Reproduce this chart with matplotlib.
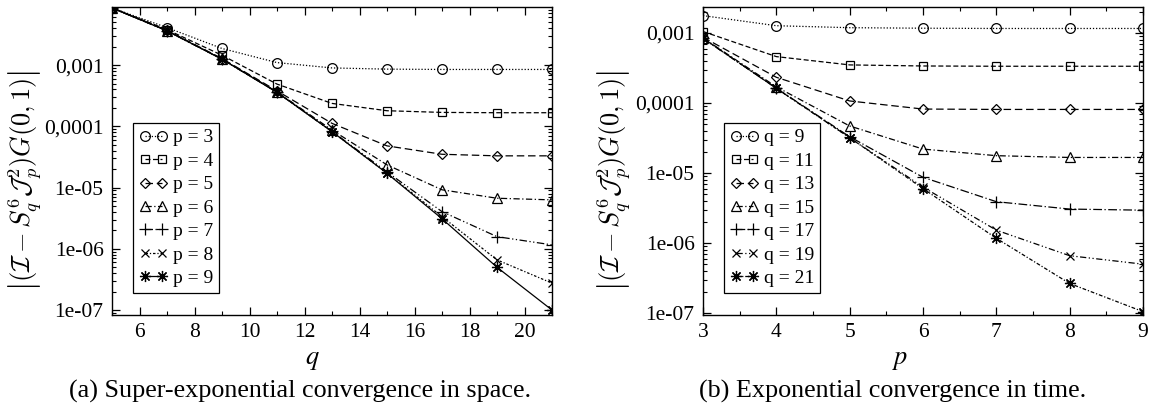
import math
import matplotlib
matplotlib.use("Agg")
import matplotlib.pyplot as plt
from matplotlib.ticker import LogLocator, FuncFormatter, MultipleLocator, NullFormatter

plt.rcParams['font.family'] = ['Liberation Serif', 'DejaVu Serif']
plt.rcParams['mathtext.fontset'] = 'stix'

# ---- (a) error vs q for fixed p ----
q_vals = [5, 7, 9, 11, 13, 15, 17, 19, 21]
space_p3 = [8.6e-3, 4.1e-3, 1.87e-3, 1.1e-3, 9.0e-4, 8.6e-4, 8.5e-4, 8.5e-4, 8.5e-4]
space_p4 = [8.6e-3, 3.8e-3, 1.45e-3, 4.9e-4, 2.37e-4, 1.8e-4, 1.69e-4, 1.67e-4, 1.67e-4]
space_p5 = [8.6e-3, 3.7e-3, 1.28e-3, 3.8e-4, 1.12e-4, 4.8e-5, 3.5e-5, 3.3e-5, 3.3e-5]
space_p6 = [8.6e-3, 3.65e-3, 1.26e-3, 3.65e-4, 8.7e-5, 2.35e-5, 9.2e-6, 6.7e-6, 6.3e-6]
space_p7 = [8.6e-3, 3.63e-3, 1.25e-3, 3.6e-4, 8.3e-5, 1.8e-5, 4.05e-6, 1.58e-6, 1.16e-6]
space_p8 = [8.6e-3, 3.63e-3, 1.25e-3, 3.6e-4, 8.2e-5, 1.72e-5, 3.35e-6, 6.6e-7, 2.75e-7]
space_p9 = [8.6e-3, 3.63e-3, 1.25e-3, 3.59e-4, 8.2e-5, 1.71e-5, 3.1e-6, 5.0e-7, 1.0e-7]
space_series = [space_p3, space_p4, space_p5, space_p6, space_p7, space_p8, space_p9]
space_labels = ['p = 3', 'p = 4', 'p = 5', 'p = 6', 'p = 7', 'p = 8', 'p = 9']

# ---- (b) error vs p for fixed q ----
p_vals = [3, 4, 5, 6, 7, 8, 9]
time_q9 = [1.77e-3, 1.27e-3, 1.19e-3, 1.17e-3, 1.16e-3, 1.16e-3, 1.16e-3]
time_q11 = [1.05e-3, 4.6e-4, 3.5e-4, 3.38e-4, 3.35e-4, 3.35e-4, 3.35e-4]
time_q13 = [8.7e-4, 2.33e-4, 1.07e-4, 8.2e-5, 8.1e-5, 8.1e-5, 8.1e-5]
time_q15 = [8.5e-4, 1.7e-4, 4.7e-5, 2.2e-5, 1.77e-5, 1.67e-5, 1.67e-5]
time_q17 = [8.4e-4, 1.63e-4, 3.3e-5, 8.7e-6, 3.9e-6, 3.06e-6, 2.95e-6]
time_q19 = [8.4e-4, 1.62e-4, 3.2e-5, 6.3e-6, 1.53e-6, 6.6e-7, 5.0e-7]
time_q21 = [8.4e-4, 1.62e-4, 3.2e-5, 6.0e-6, 1.17e-6, 2.65e-7, 1.05e-7]
time_series = [time_q9, time_q11, time_q13, time_q15, time_q17, time_q19, time_q21]
time_labels = ['q = 9', 'q = 11', 'q = 13', 'q = 15', 'q = 17', 'q = 19', 'q = 21']

# circle, square, diamond, triangle, plus, cross, eight-armed asterisk
markers = ['o', 's', 'D', '^', '+', 'x', (8, 2, 0)]
msizes = [7, 6, 5, 6.5, 8, 6, 8]
space_styles = [(0, (1, 1.5)), (0, (4, 2)), (0, (6, 3)), (0, (5, 2, 1, 2)),
                (0, (6, 2, 1, 2, 1, 2)), (0, (2, 1.5, 1, 1.5)), '-']
time_styles = [(0, (1, 1.5)), (0, (4, 2)), (0, (6, 3)), (0, (5, 2, 1, 2)),
               (0, (7, 2, 1, 2)), (0, (5, 2, 1, 2, 1, 2)), (0, (3, 1.5, 1, 1.5))]

ylabel = r'$\left|(\mathcal{I}-S^{6}_{q}\mathcal{J}^{2}_{p})G(\mathbf{0},1)\right|$'


def tick_text(v, pos):
    names = {-3: '0,001', -4: '0,0001', -5: '1e-05', -6: '1e-06', -7: '1e-07'}
    e = int(round(math.log10(v)))
    return names.get(e, '')


def style_axes(ax):
    ax.set_yscale('log')
    ax.yaxis.set_major_locator(LogLocator(base=10, numticks=20))
    ax.yaxis.set_minor_locator(LogLocator(base=10, subs=range(2, 10), numticks=20))
    ax.yaxis.set_major_formatter(FuncFormatter(tick_text))
    ax.yaxis.set_minor_formatter(NullFormatter())
    ax.tick_params(which='both', direction='in', top=True, right=True, labelsize=15.5)
    ax.tick_params(which='major', length=6, width=0.9, pad=6)
    ax.tick_params(which='minor', length=3, width=0.8)
    for s in ax.spines.values():
        s.set_linewidth(1.0)


fig = plt.figure(figsize=(11.6, 4.12), dpi=100)
ax1 = fig.add_axes([112 / 1160, 1 - 315 / 412, 440 / 1160, 308 / 412])
ax2 = fig.add_axes([703 / 1160, 1 - 315 / 412, 440 / 1160, 308 / 412])

for ys, lab, m, ms, ls in zip(space_series, space_labels, markers, msizes, space_styles):
    ax1.plot(q_vals, ys, color='black', lw=0.9, ls=ls, marker=m, ms=ms,
             mfc='none', mec='black', mew=0.9, label=lab)
for ys, lab, m, ms, ls in zip(time_series, time_labels, markers, msizes, time_styles):
    ax2.plot(p_vals, ys, color='black', lw=0.9, ls=ls, marker=m, ms=ms,
             mfc='none', mec='black', mew=0.9, label=lab)

style_axes(ax1)
ax1.set_xlim(5, 21)
ax1.set_ylim(8.3e-8, 8.9e-3)
ax1.xaxis.set_major_locator(MultipleLocator(2))
ax1.xaxis.set_minor_locator(MultipleLocator(1))
ax1.set_xticks([6, 8, 10, 12, 14, 16, 18, 20])

style_axes(ax2)
ax2.set_xlim(3, 9)
ax2.set_ylim(9.4e-8, 2.35e-3)
ax2.xaxis.set_major_locator(MultipleLocator(1))
ax2.xaxis.set_minor_locator(MultipleLocator(0.5))

leg_kw = dict(loc='upper left', borderaxespad=0, fontsize=14, frameon=True,
              fancybox=False, edgecolor='black', framealpha=1, numpoints=2,
              handlelength=1.5, handletextpad=0.25, labelspacing=0.3,
              borderpad=0.3)
l1 = ax1.legend(bbox_to_anchor=(21 / 440, 192 / 308), **leg_kw)
l2 = ax2.legend(bbox_to_anchor=(21 / 440, 192 / 308), **leg_kw)
for lg in (l1, l2):
    lg.get_frame().set_linewidth(0.9)

# axis labels and captions
for xc in (25, 614):
    fig.text(xc / 1160, 1 - 180 / 412, ylabel, rotation=90, ha='center', va='center',
             fontsize=19, math_fontfamily='cm')
fig.text(312 / 1160, 1 - 361 / 412, r'$q$', ha='center', va='center', fontsize=19)
fig.text(900 / 1160, 1 - 361 / 412, r'$p$', ha='center', va='center', fontsize=19)
fig.text(300 / 1160, 1 - 391 / 412, '(a) Super-exponential convergence in space.',
         ha='center', va='center', fontsize=18.8)
fig.text(893 / 1160, 1 - 391 / 412, '(b) Exponential convergence in time.',
         ha='center', va='center', fontsize=18.8)

fig.savefig('out.png', dpi=100)
